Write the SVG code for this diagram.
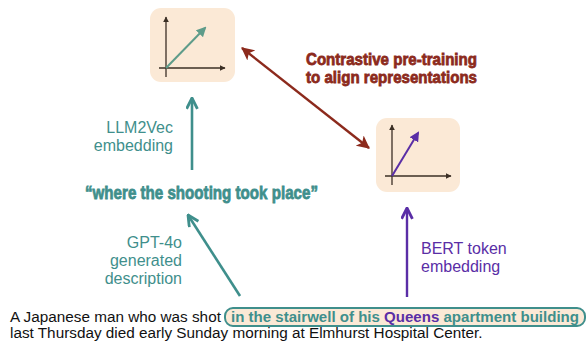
<svg xmlns="http://www.w3.org/2000/svg" width="587" height="349" viewBox="0 0 587 349">
<style>
.box{fill:#fbe9d6;}
.axis{stroke:#3b2f25;stroke-width:1.3;fill:none;}
.lbl{font-family:"Liberation Sans",Arial,sans-serif;font-size:16px;}
.teal{fill:#3f8f8c;}
.purple{fill:#5a2ea6;}
.red{fill:#8c2a1c;stroke:#8c2a1c;}
.cond{font-family:"Liberation Sans Narrow","Liberation Sans",Arial,sans-serif;font-weight:bold;stroke-width:0.8;}
.tealc{fill:#3f8f8c;stroke:#3f8f8c;}
.body{font-family:"Liberation Sans",Arial,sans-serif;font-size:15.3px;}
.blk{fill:#111;}
.hl{font-weight:bold;fill:#3f8f8c;}
.q{fill:#5a2ea6;}
</style>
<defs>
<marker id="ax" viewBox="0 0 10 10" refX="9" refY="5" markerWidth="6" markerHeight="6" markerUnits="userSpaceOnUse" orient="auto"><path d="M0,0 L10,5 L0,10 z" fill="#3b2f25"/></marker>
<marker id="vt" viewBox="0 0 10 10" refX="8" refY="5" markerWidth="10" markerHeight="10" markerUnits="userSpaceOnUse" orient="auto"><path d="M0,0 L10,5 L0,10 z" fill="#5e9c8a"/></marker>
<marker id="vp" viewBox="0 0 10 10" refX="8" refY="5" markerWidth="10" markerHeight="10" markerUnits="userSpaceOnUse" orient="auto"><path d="M0,0 L10,5 L0,10 z" fill="#5a2ea6"/></marker>
<marker id="ht" viewBox="0 0 12 12" refX="11" refY="6" markerWidth="13" markerHeight="13" markerUnits="userSpaceOnUse" orient="auto"><path d="M1,1 L11,6 L1,11" fill="none" stroke="#3f8f8c" stroke-width="2.6" stroke-linejoin="miter"/></marker>
<marker id="hp" viewBox="0 0 12 12" refX="11" refY="6" markerWidth="13" markerHeight="13" markerUnits="userSpaceOnUse" orient="auto"><path d="M1,1 L11,6 L1,11" fill="none" stroke="#5a2ea6" stroke-width="2.6"/></marker>
<marker id="hr" viewBox="0 0 12 12" refX="11" refY="6" markerWidth="13" markerHeight="13" markerUnits="userSpaceOnUse" orient="auto"><path d="M0,0 L12,6 L0,12 L3,6 z" fill="#8c2a1c"/></marker>
<marker id="hrs" viewBox="0 0 12 12" refX="1" refY="6" markerWidth="13" markerHeight="13" markerUnits="userSpaceOnUse" orient="auto"><path d="M12,0 L0,6 L12,12 L9,6 z" fill="#8c2a1c"/></marker>
</defs>

<g id="llm-space">
<rect class="box" x="150" y="8" width="85" height="74" rx="11"/>
<line class="axis" x1="166" y1="77" x2="166" y2="17" marker-end="url(#ax)"/>
<line class="axis" x1="159" y1="68" x2="225" y2="68" marker-end="url(#ax)"/>
<line x1="166" y1="68" x2="205" y2="28" stroke="#5e9c8a" stroke-width="2" marker-end="url(#vt)"/>
</g>

<g id="bert-space">
<rect class="box" x="376" y="118" width="84" height="74" rx="11"/>
<line class="axis" x1="392" y1="185" x2="392" y2="125" marker-end="url(#ax)"/>
<line class="axis" x1="385" y1="176" x2="451" y2="176" marker-end="url(#ax)"/>
<line x1="392" y1="176" x2="418" y2="133" stroke="#5a2ea6" stroke-width="2" marker-end="url(#vp)"/>
</g>

<g id="contrastive-label">
<text class="cond red" font-size="17" x="306" y="65" textLength="171" lengthAdjust="spacingAndGlyphs">Contrastive pre-training</text>
<text class="cond red" font-size="17" x="306" y="83" textLength="171" lengthAdjust="spacingAndGlyphs">to align representations</text>
</g>

<g id="description">
<text class="cond tealc" font-size="19" x="85" y="199" textLength="233" lengthAdjust="spacingAndGlyphs">“where the shooting took place”</text>
</g>

<g id="llm2vec-label">
<text class="lbl teal" text-anchor="end" x="173" y="133">LLM2Vec</text>
<text class="lbl teal" text-anchor="end" x="173" y="151">embedding</text>
</g>

<g id="gpt-label">
<text class="lbl teal" text-anchor="end" x="182" y="248">GPT-4o</text>
<text class="lbl teal" text-anchor="end" x="182" y="266">generated</text>
<text class="lbl teal" text-anchor="end" x="182" y="284">description</text>
</g>

<g id="bert-label">
<text class="lbl purple" x="421" y="254">BERT token</text>
<text class="lbl purple" x="421" y="272">embedding</text>
</g>

<g id="sentence">
<rect x="225" y="308" width="360" height="18" rx="8" fill="#fbe9d6" stroke="#3f8f8c" stroke-width="2"/>
<text class="body blk" x="10" y="322">A Japanese man who was shot</text>
<text class="body hl" x="231" y="322" textLength="348" lengthAdjust="spacingAndGlyphs">in the stairwell of his <tspan class="q">Queens</tspan> apartment building</text>
<text class="body blk" x="10" y="338">last Thursday died early Sunday morning at Elmhurst Hospital Center.</text>
</g>

<g id="connectors" fill="none">
<line x1="192" y1="170" x2="192" y2="98" stroke="#3f8f8c" stroke-width="2.6" marker-end="url(#ht)"/>
<line x1="240" y1="296" x2="188" y2="215" stroke="#3f8f8c" stroke-width="2.6" marker-end="url(#ht)"/>
<line x1="407" y1="297" x2="407" y2="208" stroke="#5a2ea6" stroke-width="2.4" marker-end="url(#hp)"/>
<line x1="242" y1="48" x2="369" y2="148" stroke="#8c2a1c" stroke-width="2.4" marker-start="url(#hrs)" marker-end="url(#hr)"/>
</g>
</svg>
